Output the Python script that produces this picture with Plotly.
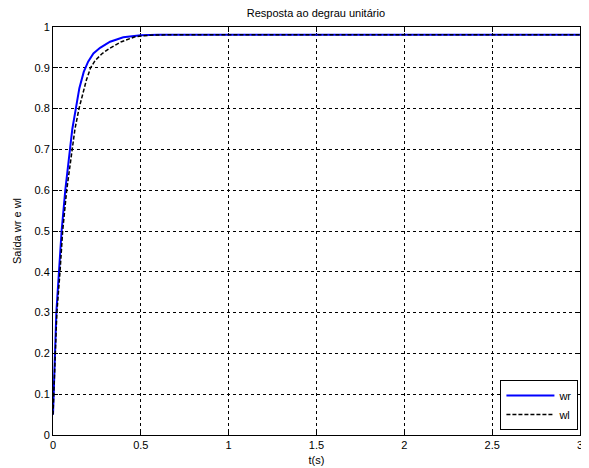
import plotly.graph_objects as go

t_wr = [0, 0.004, 0.01, 0.019, 0.034, 0.049, 0.07, 0.095, 0.11, 0.13, 0.15, 0.175, 0.2, 0.23, 0.268, 0.325, 0.4, 0.5, 0.6, 1.0, 1.5, 2.0, 2.5, 3.0]
wr = [0.05, 0.1, 0.2, 0.3, 0.4, 0.5, 0.6, 0.7, 0.75, 0.8, 0.85, 0.89, 0.915, 0.935, 0.949, 0.964, 0.975, 0.98, 0.981, 0.981, 0.981, 0.981, 0.981, 0.981]

t_wl = [0, 0.005, 0.012, 0.022, 0.04, 0.055, 0.078, 0.108, 0.125, 0.148, 0.17, 0.19, 0.214, 0.24, 0.28, 0.324, 0.39, 0.467, 0.55, 0.65, 1.0, 1.5, 2.0, 2.5, 3.0]
wl = [0.05, 0.1, 0.2, 0.3, 0.4, 0.5, 0.6, 0.7, 0.75, 0.8, 0.84, 0.87, 0.9, 0.918, 0.935, 0.948, 0.964, 0.976, 0.98, 0.981, 0.981, 0.981, 0.981, 0.981, 0.981]

x_ticks = [0, 0.5, 1, 1.5, 2, 2.5, 3]
x_labels = ["0", "0.5", "1", "1.5", "2", "2.5", "3"]
y_ticks = [0, 0.1, 0.2, 0.3, 0.4, 0.5, 0.6, 0.7, 0.8, 0.9, 1]
y_labels = ["0", "0.1", "0.2", "0.3", "0.4", "0.5", "0.6", "0.7", "0.8", "0.9", "1"]

FONT = "Liberation Sans, Arial, sans-serif"

fig = go.Figure()
fig.add_trace(go.Scatter(x=t_wr, y=wr, mode="lines", name="wr",
                         line=dict(color="#0000ff", width=2)))
fig.add_trace(go.Scatter(x=t_wl, y=wl, mode="lines", name="wl",
                         line=dict(color="#000000", width=1.5, dash="4px,2px")))

axis_common = dict(showline=True, linecolor="#000000", linewidth=1, mirror="ticks",
                   ticks="inside", ticklen=5, tickcolor="#000000",
                   showgrid=True, gridcolor="#000000", gridwidth=1, griddash="3px,3px",
                   zeroline=False, automargin=False,
                   tickfont=dict(family=FONT, size=11, color="#000000"))

fig.update_xaxes(range=[0, 3.00001], tickvals=x_ticks, ticktext=x_labels,
                 title=dict(text="t(s)", font=dict(family=FONT, size=11, color="#000000"), standoff=6),
                 **axis_common)
fig.update_yaxes(range=[0, 1.00001], tickvals=y_ticks, ticktext=y_labels,
                 title=dict(text="Saída wr e wl", font=dict(family=FONT, size=11, color="#000000"), standoff=10),
                 **axis_common)

# page body has an 8px margin, so the figure is sized/offset to compensate
fig.update_layout(
    width=581, height=460,
    margin=dict(l=45, r=9, t=19, b=33),
    paper_bgcolor="#ffffff", plot_bgcolor="#ffffff",
    title=dict(text="Resposta ao degrau unitário", x=0.530, xanchor="center",
               yref="container", y=0.9885, yanchor="middle",
               font=dict(family=FONT, size=11, color="#000000")),
    legend=dict(x=0.997, y=0.012, xanchor="right", yanchor="bottom",
                bgcolor="#ffffff", bordercolor="#000000", borderwidth=1,
                font=dict(family=FONT, size=11, color="#000000"),
                itemwidth=48, tracegroupgap=0),
    showlegend=True,
)

fig.write_html("out.html")
